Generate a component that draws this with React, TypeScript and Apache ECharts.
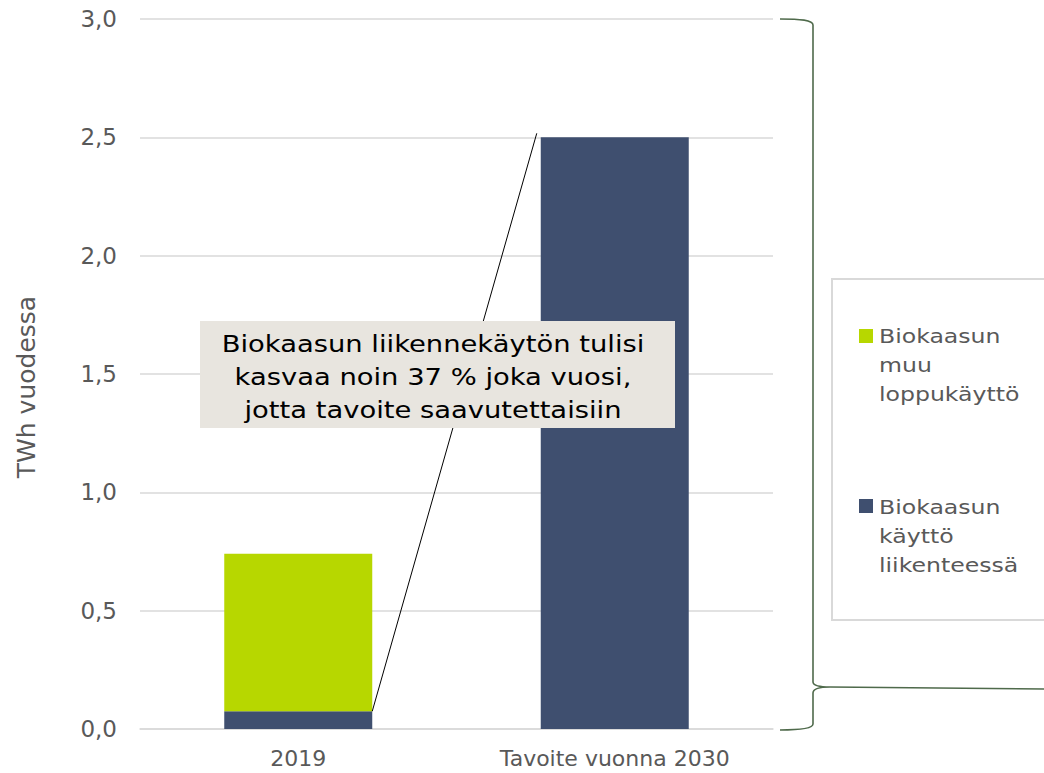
import React, { useEffect, useRef } from "react";
import * as echarts from "echarts";

const categories = ["2019", "Tavoite vuonna 2030"];
const transportValues = [0.075, 2.5];
const otherValues = [0.665, 0];
const seriesNames = ["Biokaasun käyttö liikenteessä", "Biokaasun muu loppukäyttö"];
const legendLabels = ["Biokaasun\nmuu\nloppukäyttö", "Biokaasun\nkäyttö\nliikenteessä"];
const yAxisName = "TWh vuodessa";
const yMin = 0;
const yMax = 3;
const yInterval = 0.5;
const annotationText =
  "Biokaasun liikennekäytön tulisi\nkasvaa noin 37 % joka vuosi,\njotta tavoite saavutettaisiin";

const GREEN = "#b7d700";
const NAVY = "#3f4f6f";
const BRACE = "#4f6a4b";
const GREY_TEXT = "#595959";
const FONT = "DejaVu Sans, Verdana, sans-serif";

const bracePath =
  "M0,0 C20,0 33,1 33,6 L33,663 C33,667 40,668 50,668 L264,670 M50,668 C40,668 33,670 33,674 L33,705 C33,709 20,711 0,711";

echarts.graphic.registerShape("brace", (echarts.graphic as any).extendPath(bracePath, {}));

export default function App() {
  const ref = useRef<HTMLDivElement>(null);
  useEffect(() => {
    if (!ref.current) return;
    const chart = echarts.init(ref.current, null, { renderer: "svg" });
    const barWidth = 148;
    chart.setOption({
      animation: false,
      backgroundColor: "#ffffff",
      textStyle: { fontFamily: FONT },
      grid: { left: 140, right: 271, top: 19, bottom: 44 },
      xAxis: {
        type: "category",
        data: categories,
        axisLine: { show: true, lineStyle: { color: "#d9d9d9", width: 1.5 } },
        axisTick: { show: false },
        axisLabel: { color: GREY_TEXT, fontSize: 22, margin: 18, fontFamily: FONT },
      },
      yAxis: {
        type: "value",
        min: yMin,
        max: yMax,
        interval: yInterval,
        axisLine: { show: false },
        axisTick: { show: false },
        axisLabel: {
          color: GREY_TEXT,
          fontSize: 23,
          margin: 23,
          fontFamily: FONT,
          formatter: (v: number) => v.toFixed(1).replace(".", ","),
        },
        splitLine: { lineStyle: { color: "#d9d9d9", width: 1.5 } },
      },
      series: [
        {
          name: seriesNames[0],
          type: "bar",
          stack: "total",
          data: transportValues,
          barWidth,
          itemStyle: { color: NAVY },
        },
        {
          name: seriesNames[1],
          type: "bar",
          stack: "total",
          data: otherValues,
          barWidth,
          itemStyle: { color: GREEN },
        },
      ],
    });

    const p1 = chart.convertToPixel({ gridIndex: 0 } as any, [categories[0], transportValues[0]]) as number[];
    const p2 = chart.convertToPixel({ gridIndex: 0 } as any, [categories[1], transportValues[1] + 0.017]) as number[];

    chart.setOption({
      graphic: [
        {
          type: "text",
          z: 10,
          x: 26,
          y: 387,
          rotation: Math.PI / 2,
          style: {
            text: yAxisName,
            fill: GREY_TEXT,
            font: `25px ${FONT}`,
            align: "center",
            verticalAlign: "middle",
          },
        },
        {
          type: "line",
          z: 50,
          shape: { x1: p1[0] + barWidth / 2, y1: p1[1], x2: p2[0] - barWidth / 2 - 4, y2: p2[1] },
          style: { stroke: "#000000", lineWidth: 1 },
        },
        {
          type: "rect",
          z: 60,
          shape: { x: 200, y: 321, width: 475, height: 107 },
          style: { fill: "#e8e5df" },
        },
        {
          type: "text",
          z: 61,
          x: 433,
          y: 377,
          scaleX: 1.165,
          style: {
            text: annotationText,
            fill: "#000000",
            font: `23.5px ${FONT}`,
            align: "center",
            verticalAlign: "middle",
            lineHeight: 33,
          },
        },
        {
          type: "brace",
          z: 40,
          x: 780,
          y: 19,
          style: { stroke: BRACE, lineWidth: 1.6, fill: "none" },
        },
        {
          type: "rect",
          z: 45,
          shape: { x: 832, y: 279, width: 260, height: 341 },
          style: { fill: "#ffffff", stroke: "#d9d9d9", lineWidth: 2 },
        },
        {
          type: "rect",
          z: 46,
          shape: { x: 859, y: 329, width: 14, height: 14 },
          style: { fill: GREEN },
        },
        {
          type: "text",
          z: 46,
          x: 879,
          y: 321.5,
          scaleX: 1.18,
          style: {
            text: legendLabels[0],
            fill: GREY_TEXT,
            font: `20px ${FONT}`,
            verticalAlign: "top",
            lineHeight: 29,
          },
        },
        {
          type: "rect",
          z: 46,
          shape: { x: 859, y: 499, width: 14, height: 14 },
          style: { fill: NAVY },
        },
        {
          type: "text",
          z: 46,
          x: 879,
          y: 492.5,
          scaleX: 1.18,
          style: {
            text: legendLabels[1],
            fill: GREY_TEXT,
            font: `20px ${FONT}`,
            verticalAlign: "top",
            lineHeight: 29,
          },
        },
      ],
    });

    return () => chart.dispose();
  }, []);
  return (
    <div
      ref={ref}
      style={{ position: "fixed", left: 0, top: 0, width: 1044, height: 773, background: "#fff" }}
    />
  );
}
